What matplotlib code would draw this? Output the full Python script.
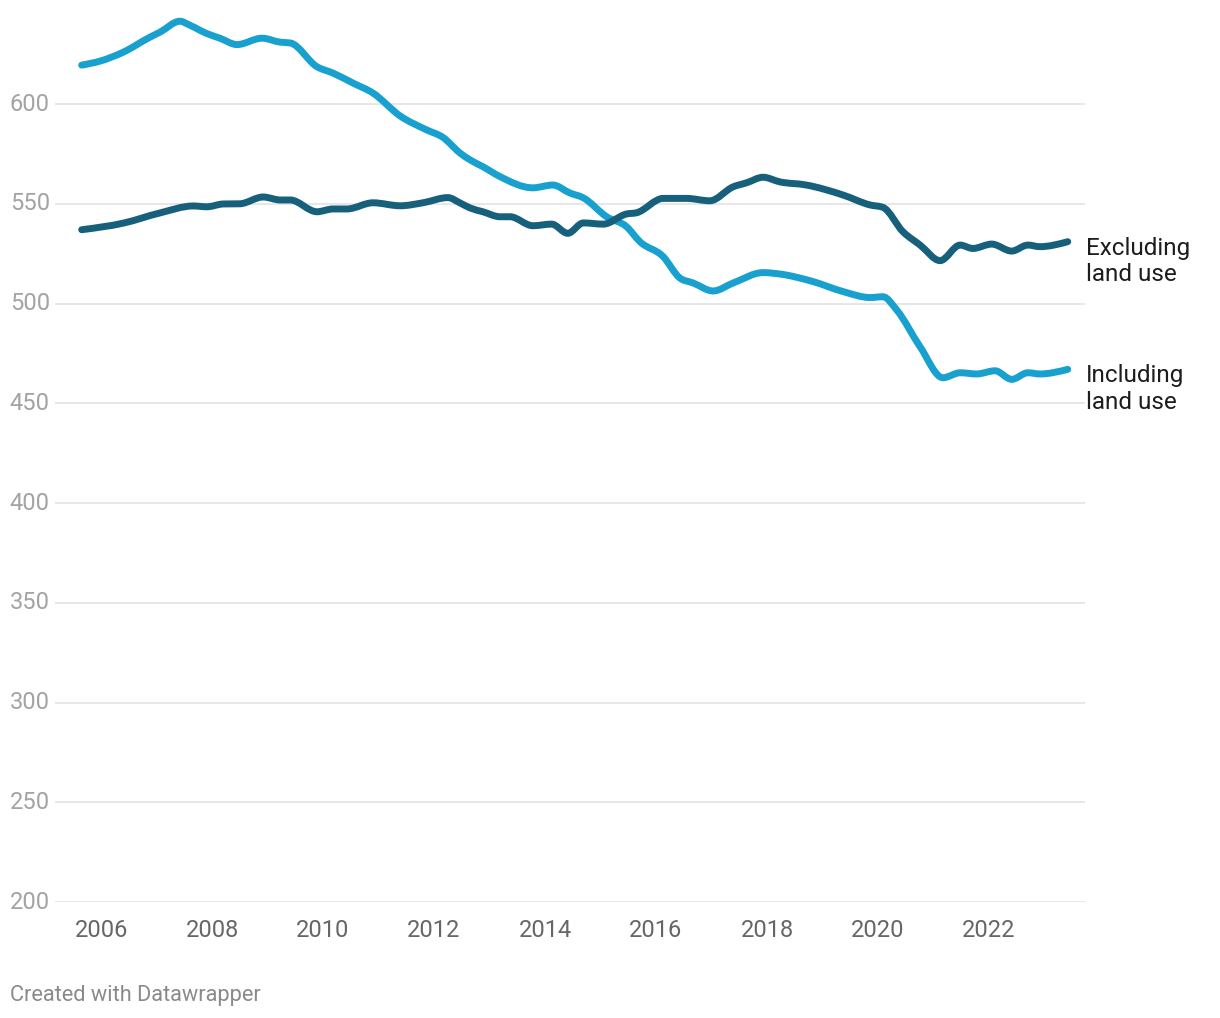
import matplotlib
matplotlib.use("Agg")
import matplotlib.pyplot as plt
import matplotlib.transforms as mtransforms
from matplotlib.path import Path
from matplotlib.patches import PathPatch
import numpy as np

plt.rcParams["font.family"] = ["Roboto", "DejaVu Sans"]

_LIGHT = "#18a1cf"
_DARK = "#17607c"
_GRID = "#e3e3e3"

# values (decimal year, value)
incl_years = [2005.65, 2005.98, 2006.40, 2006.88, 2007.06, 2007.42, 2007.60,
              2007.90, 2008.14, 2008.45, 2008.90, 2009.23, 2009.41, 2009.89,
              2010.18, 2010.54, 2010.90, 2011.39, 2011.87, 2012.16, 2012.47,
              2012.65, 2012.88, 2013.19, 2013.78, 2014.14, 2014.45, 2014.69,
              2015.11, 2015.47, 2015.71, 2016.13, 2016.43, 2016.67, 2017.03,
              2017.39, 2017.93, 2018.23, 2018.83, 2019.37, 2019.86, 2020.09,
              2020.34, 2020.76, 2021.17, 2021.48, 2021.78, 2022.11, 2022.41,
              2022.70, 2022.92, 2023.42]
incl_values = [619.5, 621.5, 626.0, 633.5, 636.0, 641.5, 639.5,
               635.4, 633.0, 629.8, 633.0, 631.0, 630.6, 618.7,
               615.5, 610.5, 605.5, 594.0, 587.0, 583.3, 575.4,
               572.0, 568.6, 563.6, 558.0, 559.4, 555.4, 553.0,
               543.5, 538.5, 531.0, 523.5, 512.8, 510.3, 506.3,
               510.3, 515.5, 514.8, 511.0, 506.0, 503.0, 503.4,
               496.7, 478.3, 462.8, 465.3, 464.7, 466.3, 462.0,
               465.3, 464.7, 467.0]

excl_years = [2005.65, 2006.40, 2007.06, 2007.66, 2007.91, 2008.20, 2008.50,
              2008.92, 2009.23, 2009.41, 2009.89, 2010.18, 2010.43, 2010.90,
              2011.39, 2011.80, 2012.25, 2012.47, 2012.65, 2012.88, 2013.19,
              2013.37, 2013.78, 2014.12, 2014.41, 2014.69, 2015.05, 2015.47,
              2015.65, 2016.13, 2016.55, 2016.97, 2017.39, 2017.63, 2017.93,
              2018.23, 2018.71, 2019.37, 2019.86, 2020.09, 2020.45, 2020.76,
              2021.12, 2021.48, 2021.71, 2022.05, 2022.41, 2022.70, 2022.92,
              2023.42]
excl_values = [537.0, 540.3, 545.4, 548.9, 548.5, 549.9, 550.0,
               553.4, 551.9, 551.9, 546.0, 547.4, 547.4, 550.5,
               549.0, 550.5, 553.1, 550.4, 547.9, 546.0, 543.5,
               543.5, 539.0, 539.8, 535.2, 540.4, 539.8, 544.9,
               545.5, 552.7, 552.7, 551.5, 558.5, 560.5, 563.3,
               561.0, 559.4, 554.4, 549.4, 548.2, 536.0, 529.3,
               521.5, 529.3, 527.6, 529.8, 526.3, 529.3, 528.5,
               531.0]

y_ticks = [200, 250, 300, 350, 400, 450, 500, 550, 600]
x_ticks = [2006, 2008, 2010, 2012, 2014, 2016, 2018, 2020, 2022]


def monotone_path(x, y):
    # bezier path through the points, monotone-x tangents (like d3)
    x = np.asarray(x, float)
    y = np.asarray(y, float)
    h = np.diff(x)
    s = np.diff(y) / h
    m = np.empty(len(x))
    for i in range(1, len(x) - 1):
        p = (s[i - 1] * h[i] + s[i] * h[i - 1]) / (h[i - 1] + h[i])
        m[i] = (np.sign(s[i - 1]) + np.sign(s[i])) * min(
            abs(s[i - 1]), abs(s[i]), 0.5 * abs(p))
    m[0] = (3 * s[0] - m[1]) / 2
    m[-1] = (3 * s[-1] - m[-2]) / 2
    verts = [(x[0], y[0])]
    codes = [Path.MOVETO]
    for i in range(len(x) - 1):
        d = h[i] / 3
        verts += [(x[i] + d, y[i] + m[i] * d),
                  (x[i + 1] - d, y[i + 1] - m[i + 1] * d),
                  (x[i + 1], y[i + 1])]
        codes += [Path.CURVE4] * 3
    return Path(verts, codes)


fig = plt.figure(figsize=(12.2, 10.18), dpi=100)
ax = fig.add_axes([0.0451, 0.1139, 0.8442, 0.8721])
ax.set_xlim(2005.17, 2023.73)
ax.set_ylim(200, 645)

for y in y_ticks:
    ax.axhline(y, color=_GRID, lw=1.2, zorder=0)

for xs, ys, col, z in [(incl_years, incl_values, _LIGHT, 2),
                       (excl_years, excl_values, _DARK, 3)]:
    ax.add_patch(PathPatch(monotone_path(xs, ys), fill=False, edgecolor=col,
                           lw=5, capstyle="round", joinstyle="round", zorder=z))

for s in ax.spines.values():
    s.set_visible(False)
ax.set_xticks(x_ticks)
ax.set_xticklabels([str(x) for x in x_ticks])
ax.set_yticks([])
ax.tick_params(axis="x", length=0, pad=12, labelsize=17, colors="#666666")

# y labels sit left of the gridlines, left aligned
lab_tr = mtransforms.blended_transform_factory(fig.transFigure, ax.transData)
for y in y_ticks:
    ax.text(0.008, y, str(y), transform=lab_tr, ha="left", va="center",
            fontsize=17, color="#a3a3a3")

off = mtransforms.offset_copy(ax.transData, fig=fig, x=18, y=5, units="dots")
for xs, ys, txt in [(excl_years, excl_values, "Excluding\nland use"),
                    (incl_years, incl_values, "Including\nland use")]:
    ax.text(xs[-1], ys[-1], txt, transform=off, ha="left", va="top",
            fontsize=17.5, color="#1d1d1d", linespacing=1.2, clip_on=False)

fig.text(0.008, 1 - 995 / 1018, "Created with Datawrapper", ha="left",
         va="center", fontsize=15.7, color="#8a8a8a")

fig.savefig("out.png", dpi=100, facecolor="white")
